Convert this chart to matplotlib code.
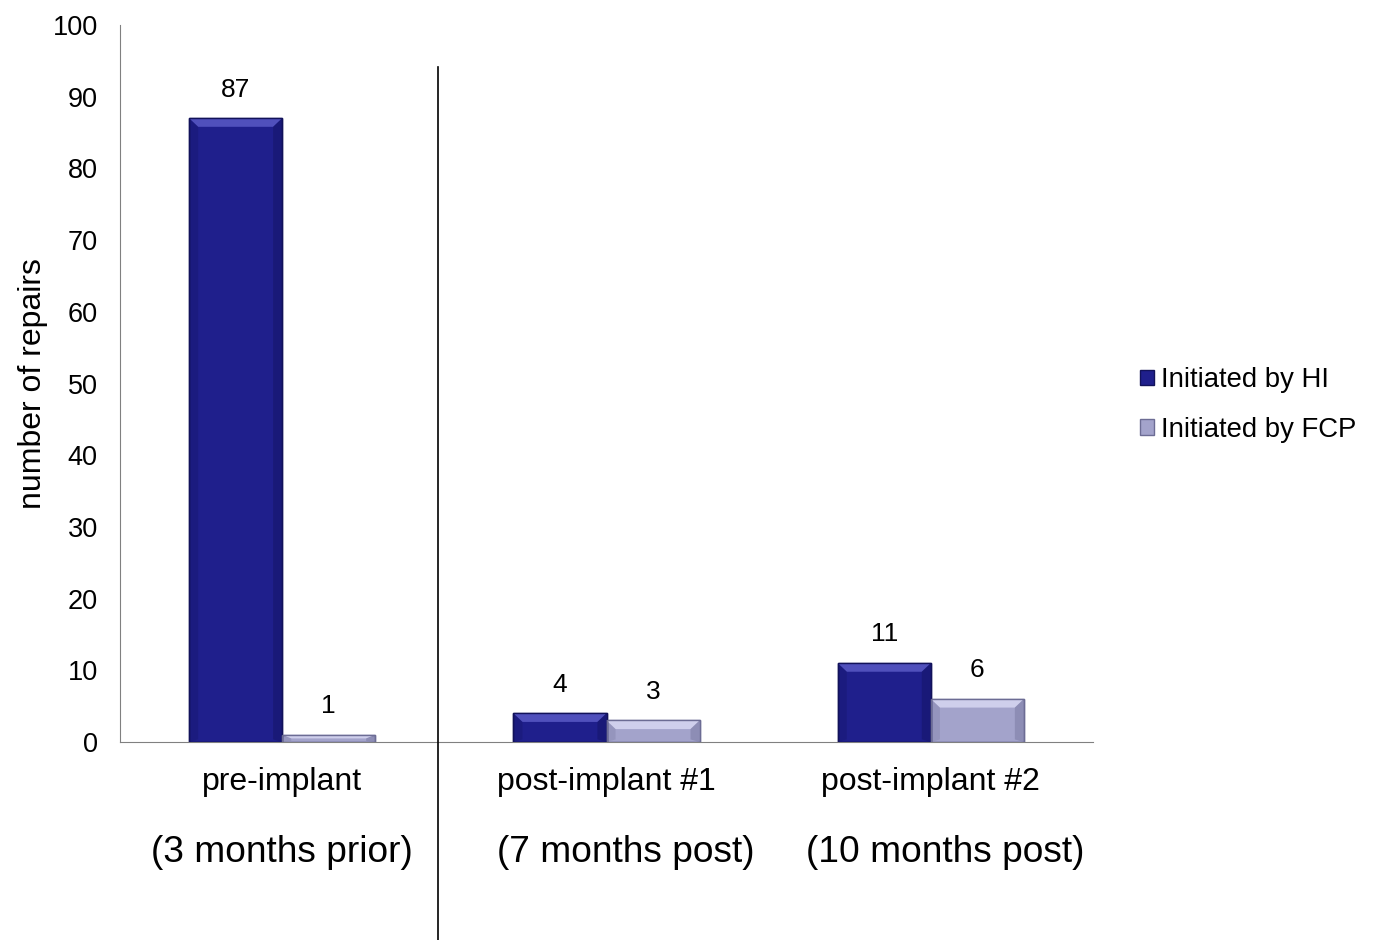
import matplotlib.pyplot as plt
from matplotlib.patches import Rectangle, Polygon, Patch
from matplotlib.lines import Line2D
import matplotlib.transforms as mtransforms
import numpy as np

plt.rcParams['font.family'] = ['Liberation Sans', 'DejaVu Sans']

categories = ['pre-implant', 'post-implant #1', 'post-implant #2']
periods = ['(3 months prior)', '(7 months post)', '(10 months post)']
hi_repairs = [87, 4, 11]
fcp_repairs = [1, 3, 6]
series_names = ['Initiated by HI', 'Initiated by FCP']

# face, light top bevel, dark rim
hi_colors = ('#1f1f8c', '#5050bc', '#12125a')
fcp_colors = ('#a3a3cb', '#cfcfec', '#6c6c94')

fig = plt.figure(figsize=(13.91, 9.4), dpi=100)
ax = fig.add_axes([120 / 1391, 1 - 742 / 940, 973 / 1391, 717 / 940])

x = np.arange(len(categories))
width = 0.287


def bevel_bar(ax, xc, h, w, colors):
    face, light, dark = colors
    x0, x1 = xc - w / 2, xc + w / 2
    ax.add_patch(Rectangle((x0, 0), w, h, facecolor=face, edgecolor=dark, linewidth=1.0, zorder=3))
    dx = 0.028
    dy = min(1.2, h / 2)
    # top bevel
    ax.add_patch(Polygon([(x0, h), (x1, h), (x1 - dx, h - dy), (x0 + dx, h - dy)],
                         closed=True, facecolor=light, edgecolor='none', zorder=4))
    # side shading
    ax.add_patch(Polygon([(x1, h), (x1, 0), (x1 - dx, dy * 0.3), (x1 - dx, h - dy)],
                         closed=True, facecolor=dark, edgecolor='none', alpha=0.4, zorder=4))
    ax.add_patch(Polygon([(x0, h), (x0, 0), (x0 + dx, dy * 0.3), (x0 + dx, h - dy)],
                         closed=True, facecolor=dark, edgecolor='none', alpha=0.25, zorder=4))
    ax.add_patch(Rectangle((x0, 0), w, h, facecolor='none', edgecolor=dark, linewidth=1.0, zorder=5))


for i in range(len(categories)):
    bevel_bar(ax, x[i] - width / 2, hi_repairs[i], width, hi_colors)
    bevel_bar(ax, x[i] + width / 2, fcp_repairs[i], width, fcp_colors)
    ax.annotate(str(hi_repairs[i]), (x[i] - width / 2, hi_repairs[i]), xytext=(0, 12),
                textcoords='offset points', ha='center', va='bottom', fontsize=19)
    ax.annotate(str(fcp_repairs[i]), (x[i] + width / 2, fcp_repairs[i]), xytext=(0, 12),
                textcoords='offset points', ha='center', va='bottom', fontsize=19)

ax.set_xlim(-0.5, 2.5)
ax.set_ylim(0, 100)
ax.set_yticks(range(0, 101, 10))
ax.tick_params(axis='y', length=0, labelsize=19.5, pad=16)
ax.set_xticks(x)
ax.set_xticklabels(categories, fontsize=23)
ax.tick_params(axis='x', length=0, pad=18)

for s in ['top', 'right']:
    ax.spines[s].set_visible(False)
ax.spines['left'].set_color('#808080')
ax.spines['bottom'].set_color('#808080')

ax.set_ylabel('number of repairs', fontsize=23, labelpad=3)

# second line of the category labels (text boxes sit a bit right of the post groups)
period_shift = [0.0, 0.06, 0.045]
trans = mtransforms.blended_transform_factory(ax.transData, fig.transFigure)
for i, p in enumerate(periods):
    ax.text(x[i] + period_shift[i], 1 - 852 / 940, p, ha='center', va='center',
            fontsize=26.7, transform=trans)

# divider between pre and post periods
fig.add_artist(Line2D([438 / 1391, 438 / 1391], [0, 1 - 67 / 940], color='black', linewidth=1.2))

handles = [Patch(facecolor=hi_colors[0], edgecolor=hi_colors[2]),
           Patch(facecolor=fcp_colors[0], edgecolor=fcp_colors[2])]
fig.legend(handles, series_names, loc='center left', bbox_to_anchor=(1121 / 1391, 1 - 405 / 940),
           frameon=False, fontsize=19.8, handlelength=0.5, handleheight=0.5, handletextpad=0.25,
           labelspacing=0.85, borderpad=0.2)

fig.savefig('out.png', dpi=100)
